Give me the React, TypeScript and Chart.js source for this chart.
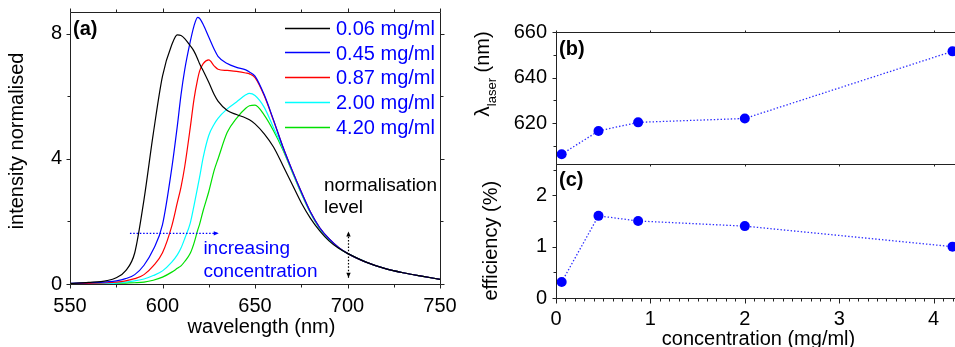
import React, { useEffect, useRef } from "react";
import { Chart, registerables } from "chart.js";

Chart.register(...registerables);

const FONT = "'Liberation Sans', Arial, Helvetica, sans-serif";

// ---------- data ----------
const wavelengthNm = [550, 560, 570, 575, 580, 585, 590, 595, 600, 605, 608, 610, 612, 615, 617, 619, 620, 622, 625, 628, 630, 635, 640, 645, 647, 650, 655, 660, 665, 670, 675, 680, 685, 690, 695, 700, 710, 720, 730, 740, 750];

const intensity006 = [0.02, 0.05, 0.11, 0.2, 0.42, 1.0, 2.7, 4.8, 6.65, 7.65, 7.97, 7.95, 7.85, 7.62, 7.45, 7.2, 7.05, 6.82, 6.45, 6.05, 5.85, 5.55, 5.42, 5.31, 5.25, 5.12, 4.8, 4.38, 3.8, 3.2, 2.6, 2.1, 1.7, 1.38, 1.15, 0.98, 0.7, 0.5, 0.36, 0.25, 0.15];
const intensity045 = [0.02, 0.04, 0.07, 0.1, 0.17, 0.3, 0.6, 1.1, 1.9, 3.7, 5.05, 6.05, 6.85, 7.75, 8.25, 8.53, 8.5, 8.3, 7.9, 7.5, 7.28, 7.05, 6.93, 6.85, 6.78, 6.65, 6.05, 5.25, 4.4, 3.65, 2.95, 2.3, 1.8, 1.45, 1.18, 0.98, 0.7, 0.5, 0.36, 0.25, 0.15];
const intensity087 = [0.01, 0.02, 0.04, 0.06, 0.1, 0.17, 0.3, 0.58, 1.0, 1.85, 2.6, 3.1, 3.75, 5.0, 5.9, 6.55, 6.8, 7.05, 7.17, 6.97, 6.87, 6.83, 6.8, 6.75, 6.72, 6.6, 6.02, 5.23, 4.4, 3.65, 2.95, 2.3, 1.8, 1.45, 1.18, 0.98, 0.7, 0.5, 0.36, 0.25, 0.15];
const intensity200 = [0.01, 0.01, 0.02, 0.03, 0.06, 0.1, 0.16, 0.27, 0.42, 0.7, 0.93, 1.15, 1.45, 1.95, 2.5, 3.1, 3.4, 4.05, 4.75, 5.12, 5.3, 5.6, 5.82, 6.05, 6.1, 6.03, 5.65, 5.0, 4.35, 3.62, 2.92, 2.28, 1.78, 1.43, 1.17, 0.98, 0.7, 0.5, 0.36, 0.25, 0.15];
const intensity420 = [0.0, 0.01, 0.01, 0.02, 0.03, 0.04, 0.06, 0.12, 0.22, 0.38, 0.5, 0.58, 0.72, 0.98, 1.3, 1.72, 1.9, 2.35, 2.95, 3.65, 4.0, 4.85, 5.3, 5.62, 5.7, 5.72, 5.4, 4.9, 4.3, 3.6, 2.9, 2.27, 1.77, 1.43, 1.17, 0.98, 0.7, 0.5, 0.36, 0.25, 0.15];

const spectrumLabels = ["0.06 mg/ml", "0.45 mg/ml", "0.87 mg/ml", "2.00 mg/ml", "4.20 mg/ml"];
const spectrumColors = ["#000000", "#0000ff", "#ff0000", "#00ffff", "#00e000"];

const concentrations = [0.06, 0.45, 0.87, 2.0, 4.2];
const laserWavelength = [606.3, 616.5, 620.3, 622.0, 651.5];
const efficiencyPct = [0.31, 1.6, 1.5, 1.4, 1.0];

const wlMajorTicks = [550, 600, 650, 700, 750];
const wlMinorTicks = [575, 625, 675, 725];
const intMajorTicks = [0, 4, 8];
const intMinorTicks = [2, 6];
const concMajorTicks = [0, 1, 2, 3, 4];
const concMinorTicks = [0.1, 0.2, 0.3, 0.4, 0.5, 0.6, 0.7, 0.8, 0.9, 1.1, 1.2, 1.3, 1.4, 1.5, 1.6, 1.7, 1.8, 1.9, 2.1, 2.2, 2.3, 2.4, 2.5, 2.6, 2.7, 2.8, 2.9, 3.1, 3.2, 3.3, 3.4, 3.5, 3.6, 3.7, 3.8, 3.9, 4.1, 4.2];
const lambdaMajorTicks = [620, 640, 660];
const lambdaMinorTicks = [610, 630, 650];
const effMajorTicks = [0, 1, 2];
const effMinorTicks = [0.5, 1.5, 2.5];

const FRAME = "#222";

type TickSpec = { values: number[]; len: number };
interface FrameSpec {
  bottom?: TickSpec[];
  top?: TickSpec[];
  left?: TickSpec[];
  right?: TickSpec[];
  extra?: (chart: any) => void;
}

function framePlugin(spec: FrameSpec) {
  return {
    id: "frameTicks",
    afterDraw(chart: any) {
      const { ctx, chartArea: a } = chart;
      const xs = chart.scales.x;
      const ys = chart.scales.y;
      const L = Math.round(a.left) + 0.5;
      const R = Math.round(a.right) + 0.5;
      const T = Math.round(a.top) + 0.5;
      const B = Math.round(a.bottom) + 0.5;
      const px = (v: number) => Math.round(xs.getPixelForValue(v)) + 0.5;
      const py = (v: number) => Math.round(ys.getPixelForValue(v)) + 0.5;
      ctx.save();
      ctx.strokeStyle = FRAME;
      ctx.lineWidth = 1;
      ctx.beginPath();
      ctx.rect(L, T, R - L, B - T);
      (spec.bottom || []).forEach((t) => t.values.forEach((v) => { const x = px(v); ctx.moveTo(x, B); ctx.lineTo(x, B + t.len); }));
      (spec.top || []).forEach((t) => t.values.forEach((v) => { const x = px(v); ctx.moveTo(x, T); ctx.lineTo(x, T - t.len); }));
      (spec.left || []).forEach((t) => t.values.forEach((v) => { const y = py(v); ctx.moveTo(L, y); ctx.lineTo(L - t.len, y); }));
      (spec.right || []).forEach((t) => t.values.forEach((v) => { const y = py(v); ctx.moveTo(R, y); ctx.lineTo(R + t.len, y); }));
      ctx.stroke();
      ctx.restore();
      if (spec.extra) spec.extra(chart);
    },
  };
}

function dottedArrow(ctx: CanvasRenderingContext2D, x1: number, y1: number, x2: number, y2: number, color: string, both: boolean) {
  ctx.save();
  ctx.strokeStyle = color;
  ctx.fillStyle = color;
  ctx.lineWidth = 1.2;
  ctx.setLineDash([1.5, 1.8]);
  ctx.beginPath();
  ctx.moveTo(x1, y1);
  ctx.lineTo(x2, y2);
  ctx.stroke();
  ctx.setLineDash([]);
  const head = (x: number, y: number, ang: number) => {
    const c = Math.cos(ang), s = Math.sin(ang);
    const len = 5, hw = 2.2;
    ctx.beginPath();
    ctx.moveTo(x, y);
    ctx.lineTo(x - len * c - hw * s, y - len * s + hw * c);
    ctx.lineTo(x - len * c + hw * s, y - len * s - hw * c);
    ctx.closePath();
    ctx.fill();
  };
  const ang = Math.atan2(y2 - y1, x2 - x1);
  head(x2, y2, ang);
  if (both) head(x1, y1, ang + Math.PI);
  ctx.restore();
}

function rotatedText(ctx: CanvasRenderingContext2D, parts: { text: string; size: number; shift: number }[], baselineX: number, centerY: number) {
  ctx.save();
  ctx.translate(baselineX, centerY);
  ctx.rotate(-Math.PI / 2);
  ctx.fillStyle = "#000";
  ctx.textBaseline = "alphabetic";
  ctx.textAlign = "left";
  let total = 0;
  const widths = parts.map((p) => { ctx.font = `${p.size}px ${FONT}`; const w = ctx.measureText(p.text).width; total += w; return w; });
  let x = -total / 2;
  parts.forEach((p, i) => { ctx.font = `${p.size}px ${FONT}`; ctx.fillText(p.text, x, p.shift); x += widths[i]; });
  ctx.restore();
}

function fixedScale(size: number, isX: boolean) {
  return (s: any) => {
    if (isX) s.height = size; else s.width = size;
    s.paddingLeft = 0; s.paddingRight = 0; s.paddingTop = 0; s.paddingBottom = 0;
  };
}

function tickFont() {
  return { family: FONT, size: 20 };
}

export default function App() {
  const refA = useRef<HTMLCanvasElement>(null);
  const refB = useRef<HTMLCanvasElement>(null);
  const refC = useRef<HTMLCanvasElement>(null);

  useEffect(() => {
    const spectra = [intensity006, intensity045, intensity087, intensity200, intensity420];

    // ---------- panel (a) ----------
    const chartA = new Chart(refA.current as HTMLCanvasElement, {
      type: "line",
      data: {
        datasets: spectra.map((vals, i) => ({
          label: spectrumLabels[i],
          data: wavelengthNm.map((w, j) => ({ x: w, y: vals[j] })),
          borderColor: spectrumColors[i],
          backgroundColor: spectrumColors[i],
          borderWidth: 1.2,
          pointRadius: 0,
          cubicInterpolationMode: "monotone" as const,
          fill: false,
        })),
      },
      options: {
        responsive: false,
        animation: false,
        events: [],
        layout: { padding: { left: 0, right: 40, top: 12, bottom: 0 } },
        plugins: { legend: { display: false }, tooltip: { enabled: false } },
        scales: {
          x: {
            type: "linear", min: 550, max: 750,
            grid: { display: false, drawTicks: false }, border: { display: false },
            ticks: { font: tickFont(), color: "#000", padding: 10, maxRotation: 0 },
            afterBuildTicks: (s: any) => { s.ticks = wlMajorTicks.map((v) => ({ value: v })); },
            afterFit: fixedScale(63, true),
          },
          y: {
            type: "linear", min: 0, max: 8.7,
            grid: { display: false, drawTicks: false }, border: { display: false },
            ticks: { font: tickFont(), color: "#000", padding: 8 },
            afterBuildTicks: (s: any) => { s.ticks = intMajorTicks.map((v) => ({ value: v })); },
            afterFit: fixedScale(70, false),
          },
        },
      },
      plugins: [framePlugin({
        bottom: [{ values: wlMajorTicks, len: 4 }, { values: wlMinorTicks, len: 3 }],
        top: [{ values: wlMajorTicks, len: 4 }, { values: wlMinorTicks, len: 3 }],
        left: [{ values: intMajorTicks, len: 4 }, { values: intMinorTicks, len: 3 }],
        right: [{ values: intMajorTicks, len: 4 }, { values: intMinorTicks, len: 3 }],
        extra: (chart: any) => {
          const { ctx, chartArea: a } = chart;
          const xs = chart.scales.x, ys = chart.scales.y;
          ctx.save();
          // panel label
          ctx.fillStyle = "#000";
          ctx.font = `bold 20px ${FONT}`;
          ctx.textAlign = "left";
          ctx.textBaseline = "alphabetic";
          ctx.fillText("(a)", a.left + 3, a.top + 22.5);
          // legend
          spectrumLabels.forEach((lab, i) => {
            const y = a.top + 15.5 + i * 24.85;
            ctx.strokeStyle = spectrumColors[i];
            ctx.lineWidth = 1.5;
            ctx.beginPath();
            ctx.moveTo(285, Math.round(y) + 0.5);
            ctx.lineTo(330, Math.round(y) + 0.5);
            ctx.stroke();
            ctx.fillStyle = "#0000ff";
            ctx.font = `20px ${FONT}`;
            ctx.fillText(lab, 336, y + 7.2);
          });
          // annotations
          ctx.fillStyle = "#000";
          ctx.font = `19px ${FONT}`;
          ctx.fillText("normalisation", xs.getPixelForValue(687.3), ys.getPixelForValue(2.96));
          ctx.fillText("level", xs.getPixelForValue(687.3), ys.getPixelForValue(2.26));
          ctx.fillStyle = "#0000ff";
          ctx.fillText("increasing", xs.getPixelForValue(622.1), ys.getPixelForValue(0.96));
          ctx.fillText("concentration", xs.getPixelForValue(622.1), ys.getPixelForValue(0.22));
          dottedArrow(ctx, xs.getPixelForValue(582.4), ys.getPixelForValue(1.62), xs.getPixelForValue(630.4), ys.getPixelForValue(1.62), "#0000ff", false);
          dottedArrow(ctx, Math.round(xs.getPixelForValue(700)) + 0.5, ys.getPixelForValue(0.2), Math.round(xs.getPixelForValue(700)) + 0.5, ys.getPixelForValue(1.68), "#000", true);
          // axis titles
          ctx.fillStyle = "#000";
          ctx.font = `20px ${FONT}`;
          ctx.textAlign = "center";
          ctx.fillText("wavelength (nm)", 261.5, 333);
          ctx.restore();
          rotatedText(ctx, [{ text: "intensity normalised", size: 20, shift: 0 }], 22.5, 141);
        },
      })],
    } as any);

    // ---------- panel (b) ----------
    const scatterStyle = {
      showLine: true,
      borderColor: "#2a2aff",
      borderWidth: 1.3,
      borderDash: [1.4, 2.0],
      pointRadius: 5,
      pointBackgroundColor: "#0000ff",
      pointBorderColor: "#0000ff",
      pointBorderWidth: 0,
      clip: false,
    };

    const chartB = new Chart(refB.current as HTMLCanvasElement, {
      type: "scatter",
      data: {
        datasets: [{
          label: "laser wavelength",
          data: concentrations.map((c, i) => ({ x: c, y: laserWavelength[i] })),
          ...scatterStyle,
        }],
      },
      options: {
        responsive: false,
        animation: false,
        events: [],
        layout: { padding: { left: 0, right: 14, top: 32, bottom: 0 } },
        plugins: { legend: { display: false }, tooltip: { enabled: false } },
        scales: {
          x: {
            type: "linear", min: 0, max: 4.29,
            grid: { display: false, drawTicks: false }, border: { display: false },
            ticks: { display: false },
            afterBuildTicks: (s: any) => { s.ticks = concMajorTicks.map((v) => ({ value: v })); },
            afterFit: fixedScale(183, true),
          },
          y: {
            type: "linear", min: 602, max: 660,
            grid: { display: false, drawTicks: false }, border: { display: false },
            ticks: { font: tickFont(), color: "#000", padding: 9 },
            afterBuildTicks: (s: any) => { s.ticks = lambdaMajorTicks.map((v) => ({ value: v })); },
            afterFit: fixedScale(116, false),
          },
        },
      },
      plugins: [framePlugin({
        top: [{ values: concMajorTicks, len: 2 }],
        bottom: [{ values: concMajorTicks, len: 2 }],
        left: [{ values: lambdaMajorTicks, len: 4 }, { values: lambdaMinorTicks, len: 3 }],
        extra: (chart: any) => {
          const { ctx, chartArea: a } = chart;
          ctx.save();
          ctx.fillStyle = "#000";
          ctx.font = `bold 20px ${FONT}`;
          ctx.textAlign = "left";
          ctx.textBaseline = "alphabetic";
          ctx.fillText("(b)", a.left + 3, a.top + 22.5);
          ctx.restore();
          rotatedText(ctx, [
            { text: "λ", size: 21, shift: 0 },
            { text: "laser", size: 13, shift: 6.5 },
            { text: " (nm)", size: 20, shift: 0 },
          ], 49, 74);
        },
      })],
    } as any);

    // ---------- panel (c) ----------
    const chartC = new Chart(refC.current as HTMLCanvasElement, {
      type: "scatter",
      data: {
        datasets: [{
          label: "efficiency",
          data: concentrations.map((c, i) => ({ x: c, y: efficiencyPct[i] })),
          ...scatterStyle,
        }],
      },
      options: {
        responsive: false,
        animation: false,
        events: [],
        layout: { padding: { left: 0, right: 14, top: 164, bottom: 0 } },
        plugins: { legend: { display: false }, tooltip: { enabled: false } },
        scales: {
          x: {
            type: "linear", min: 0, max: 4.29,
            grid: { display: false, drawTicks: false }, border: { display: false },
            ticks: { font: tickFont(), color: "#000", padding: 9, maxRotation: 0 },
            afterBuildTicks: (s: any) => { s.ticks = concMajorTicks.map((v) => ({ value: v })); },
            afterFit: fixedScale(49, true),
          },
          y: {
            type: "linear", min: 0, max: 2.61,
            grid: { display: false, drawTicks: false }, border: { display: false },
            ticks: { font: tickFont(), color: "#000", padding: 9 },
            afterBuildTicks: (s: any) => { s.ticks = effMajorTicks.map((v) => ({ value: v })); },
            afterFit: fixedScale(116, false),
          },
        },
      },
      plugins: [framePlugin({
        bottom: [{ values: concMajorTicks, len: 5 }, { values: concMinorTicks, len: 3 }],
        left: [{ values: effMajorTicks, len: 4 }, { values: effMinorTicks, len: 3 }],
        extra: (chart: any) => {
          const { ctx, chartArea: a } = chart;
          ctx.save();
          ctx.fillStyle = "#000";
          ctx.font = `bold 20px ${FONT}`;
          ctx.textAlign = "left";
          ctx.textBaseline = "alphabetic";
          ctx.fillText("(c)", a.left + 3, a.top + 22);
          ctx.font = `20px ${FONT}`;
          ctx.textAlign = "center";
          ctx.fillText("concentration (mg/ml)", (a.left + a.right) / 2, 344.5);
          ctx.restore();
          rotatedText(ctx, [{ text: "efficiency (%)", size: 20, shift: 0 }], 57, 240.7);
        },
      })],
    } as any);

    return () => {
      chartA.destroy();
      chartB.destroy();
      chartC.destroy();
    };
  }, []);

  return (
    <div style={{ position: "fixed", left: 0, top: 0, width: 955, height: 347, overflow: "hidden", background: "#fff" }}>
      <canvas ref={refA} width={480} height={347} style={{ position: "absolute", left: 0, top: 0 }} />
      <canvas ref={refB} width={535} height={347} style={{ position: "absolute", left: 440, top: 0 }} />
      <canvas ref={refC} width={535} height={347} style={{ position: "absolute", left: 440, top: 0 }} />
    </div>
  );
}
